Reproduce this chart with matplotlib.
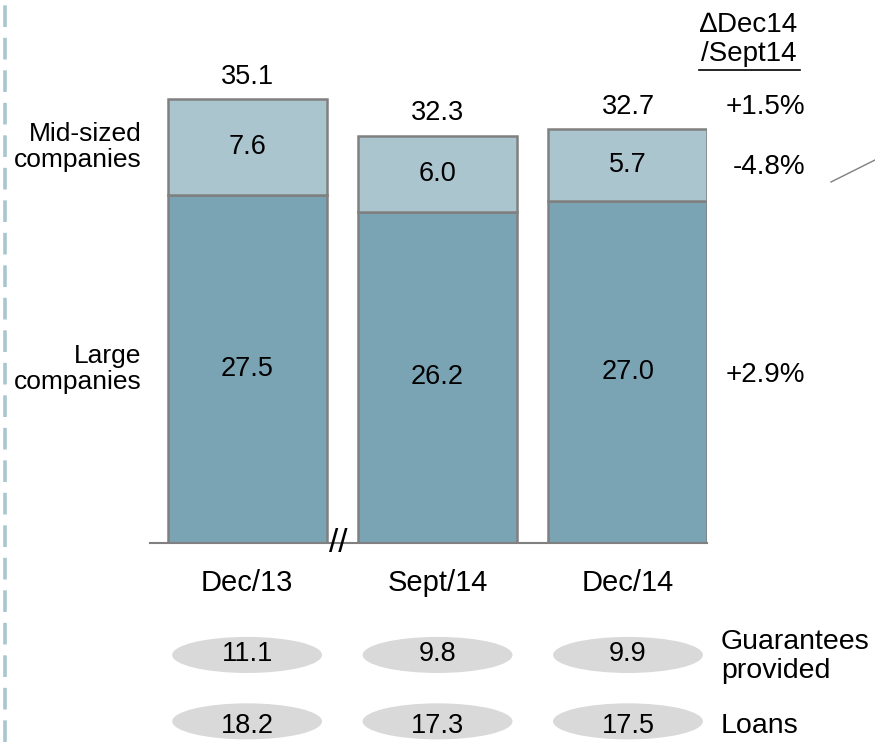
import matplotlib
matplotlib.use("Agg")
import matplotlib.pyplot as plt
from matplotlib.patches import Ellipse
from matplotlib.lines import Line2D

plt.rcParams['font.family'] = ['Liberation Sans', 'DejaVu Sans']

# Outstanding amounts by company size (EUR bn)
periods = ['Dec/13', 'Sept/14', 'Dec/14']
large = [27.5, 26.2, 27.0]
mid_sized = [7.6, 6.0, 5.7]
totals = [35.1, 32.3, 32.7]
change_labels = ['+1.5%', '-4.8%', '+2.9%']
guarantees = [11.1, 9.8, 9.9]
loans = [18.2, 17.3, 17.5]

col_large = '#7aa3b4'
col_mid = '#abc5cf'
edge = '#808080'
bar_w = 0.835

fig = plt.figure(figsize=(8.75, 7.42), dpi=100)
ax = fig.add_axes([150 / 875, 199 / 742, 557.5 / 875, 506 / 742])
ax.set_xlim(-0.51, 2 + bar_w / 2)
ax.set_ylim(0, 40)
for s in ['top', 'right', 'left']:
    ax.spines[s].set_visible(False)
ax.spines['bottom'].set_color(edge)
ax.spines['bottom'].set_linewidth(1.5)
ax.set_xticks([])
ax.set_yticks([])

x = list(range(len(periods)))
ax.bar(x, large, width=bar_w, color=col_large, edgecolor=edge, linewidth=1.8, zorder=2)
ax.bar(x, mid_sized, bottom=large, width=bar_w, color=col_mid, edgecolor=edge,
       linewidth=1.8, zorder=2)

fs = 19.5
for i in x:
    ax.text(i, totals[i] + 0.7, f'{totals[i]:.1f}', ha='center', va='bottom', fontsize=fs)
    ax.text(i, large[i] + mid_sized[i] / 2, f'{mid_sized[i]:.1f}', ha='center',
            va='center', fontsize=fs)
    ax.text(i, large[i] / 2, f'{large[i]:.1f}', ha='center', va='center', fontsize=fs)
    ax.text(i, -3.2, periods[i], ha='center', va='center', fontsize=21, clip_on=False)

    # circled figures for guarantees and loans
    for val, yy, ty in [(guarantees[i], -8.85, -8.75), (loans[i], -14.1, -14.45)]:
        ax.add_patch(Ellipse((i, yy), 0.787, 2.85, facecolor='#d9d9d9',
                             edgecolor='none', clip_on=False))
        ax.text(i, ty, f'{val:.1f}', ha='center', va='center', fontsize=fs, clip_on=False)

# segment names on the left
ax.text(-0.555, large[0] + mid_sized[0] / 2, 'Mid-sized\ncompanies', ha='right',
        va='center', fontsize=19, linespacing=1.15)
ax.text(-0.555, large[0] / 2, 'Large\ncompanies', ha='right', va='center',
        fontsize=19, linespacing=1.15)

# change column
ax.text(2.635, 40.95, '\u2206Dec14', ha='center', va='center', fontsize=20, clip_on=False)
ax.text(2.635, 38.66, '/Sept14', ha='center', va='center', fontsize=20, clip_on=False)
ax.plot([2.373, 2.903], [37.39, 37.39], color='black', lw=1.2, clip_on=False)
for lab, yy in zip(change_labels, [34.47, 29.72, 13.28]):
    ax.text(2.929, yy, lab, ha='right', va='center', fontsize=20, clip_on=False)

ax.text(2.488, -9.0, 'Guarantees\nprovided', ha='left', va='center', fontsize=20.5,
        linespacing=1.15, clip_on=False)
ax.text(2.488, -14.45, 'Loans', ha='left', va='center', fontsize=20.5, clip_on=False)

# axis break between the first two bars
ax.text(0.478, 0, '//', ha='center', va='center', fontsize=24, clip_on=False)

# dashed rule on the left edge and the pointer line top right
fig.add_artist(Line2D([5 / 875, 5 / 875], [0, 1], color='#a9c6d0', lw=2.6,
                      linestyle=(0, (6, 3)), transform=fig.transFigure))
fig.add_artist(Line2D([831 / 875, 1.0], [1 - 182 / 742, 1 - 160 / 742], color='#808080',
                      lw=1, transform=fig.transFigure))

fig.savefig('out.png', dpi=100)
